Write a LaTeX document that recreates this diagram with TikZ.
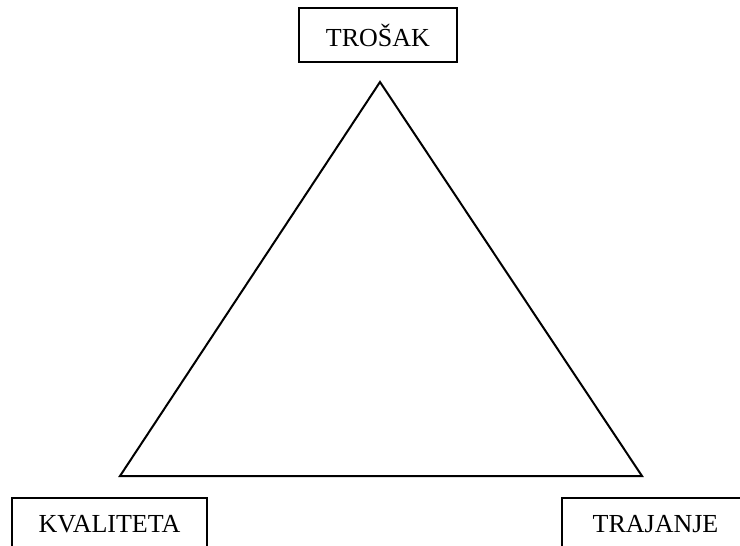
\documentclass[tikz,border=0pt]{standalone}
\usepackage{fontspec}
\setmainfont{Liberation Serif}
\usetikzlibrary{positioning}
\tikzset{
  okvir/.style={draw, line width=0.8pt, inner sep=0pt, minimum height=26pt,
    font=\fontsize{13}{15}\selectfont},
  stranica/.style={line width=1pt, line join=miter}
}

\begin{document}
\begin{tikzpicture}[x=0.5pt,y=-0.5pt]
  \useasboundingbox (0,0) rectangle (740,546);
  \node[okvir, minimum width=79pt, minimum height=27pt] (trosak) at (378,35) {TROŠAK};
  \node[okvir, minimum width=97.5pt] (kvaliteta) at (109.5,524) {KVALITETA};
  \node[okvir, minimum width=93.5pt] (trajanje) at (655.5,524) {TRAJANJE};
  \coordinate (vrh) at (380,82);
  \coordinate (lijevo) at (120,476);
  \coordinate (desno) at (642,476);
  \draw[stranica] (vrh) -- (lijevo) -- (desno) -- cycle;
\end{tikzpicture}
\end{document}
